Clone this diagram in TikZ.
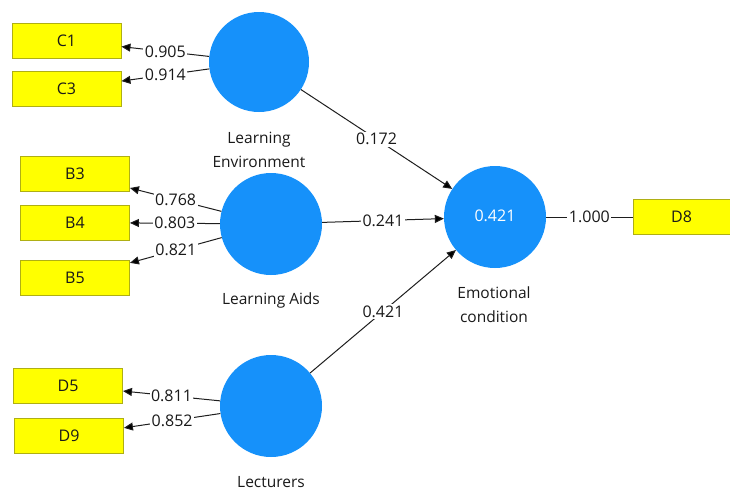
\documentclass[tikz,border=0pt]{standalone}
\usepackage{fontspec}
\setmainfont{Open Sans}
\usetikzlibrary{arrows.meta}
\definecolor{lvblue}{RGB}{22,145,250}
\definecolor{boxyel}{RGB}{255,255,0}
\definecolor{boxedge}{RGB}{175,175,20}
\definecolor{linegray}{RGB}{30,30,30}
\tikzset{
  lv/.style={circle,fill=lvblue,draw=none,minimum size=#1,inner sep=0pt},
  ind/.style={rectangle,fill=boxyel,draw=boxedge,line width=0.9pt,minimum width=109pt,minimum height=35pt,inner sep=0pt,font=\fontsize{16}{18}\selectfont,text=black!90},
  lvname/.style={font=\fontsize{15.5}{24}\selectfont,align=center,text=black!90,inner sep=0pt},
  conn/.style={draw=linegray,line width=1pt},
  arr/.style={conn,-{Triangle[length=9pt,width=8pt,fill=black]}},
  coef/.style={fill=white,inner sep=1.5pt,font=\fontsize{16}{18}\selectfont,text=black!90},
}
\begin{document}
\begin{tikzpicture}[x=1pt,y=-1pt]
\useasboundingbox (0,0) rectangle (730,490);
% latent variables
\node[lv=100pt] (LE) at (259,62) {};
\node[lv=102pt] (LA) at (271,224) {};
\node[lv=102pt,text=white,font=\fontsize{16}{18}\selectfont] (EC) at (495,217) {\raisebox{3pt}{0.421}};
\node[lv=102pt] (LEC) at (271,406) {};
% names
\node[lvname] (LEn) at (259,150) {Learning\\Environment};
\node[lvname] (LAn) at (271,300) {Learning Aids};
\node[lvname] (ECn) at (494,305) {Emotional\\condition};
\node[lvname] (LECn) at (271,482) {Lecturers};
% indicators
\node[ind] (C1) at (66.5,40.5) {C1};
\node[ind] (C3) at (66.5,88.7) {C3};
\node[ind] (B3) at (75,174) {B3};
\node[ind] (B4) at (75,222.5) {B4};
\node[ind] (B5) at (75,278) {B5};
\node[ind] (D5) at (68,385.5) {D5};
\node[ind] (D9) at (69,436) {D9};
\node[ind,minimum width=97pt] (D8) at (681.5,217) {D8};
% outer loadings
\draw[arr] (LE) -- node[coef]{0.905} (C1);
\draw[arr] (LE) -- node[coef]{0.914} (C3);
\draw[arr] (LA) -- node[coef]{0.768} (B3);
\draw[arr] (LA) -- node[coef]{0.803} (B4);
\draw[arr] (LA) -- node[coef]{0.821} (B5);
\draw[arr] (LEC) -- node[coef]{0.811} (D5);
\draw[arr] (LEC) -- node[coef]{0.852} (D9);
\draw[conn] (EC) -- node[coef]{1.000} (D8);
% path coefficients
\draw[arr] (LE) -- node[coef]{0.172} (EC);
\draw[arr] (LA) -- node[coef]{0.241} (EC);
\draw[arr] (LEC) -- node[coef]{0.421} (EC);
\end{tikzpicture}
\end{document}
